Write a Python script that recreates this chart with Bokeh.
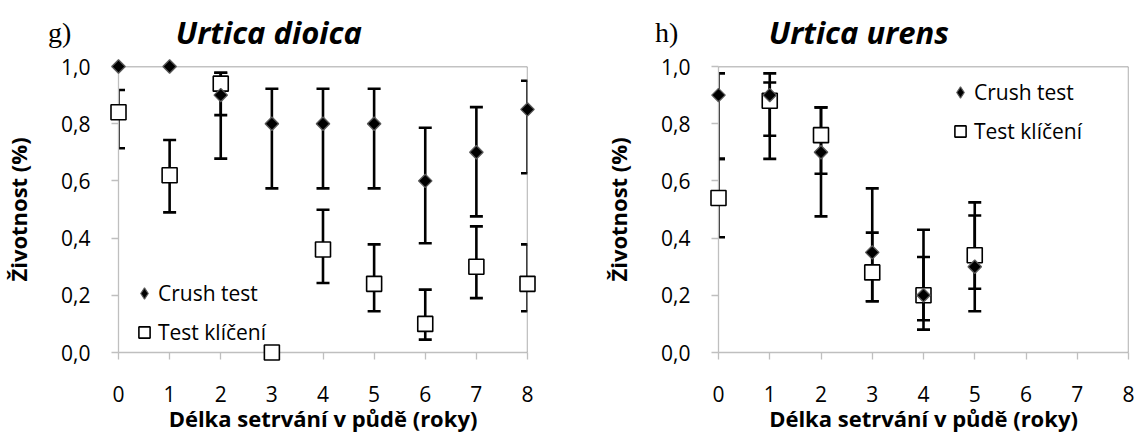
import math
from bokeh.plotting import figure
from bokeh.models import (ColumnDataSource, Whisker, TeeHead, Span, Legend,
                          LegendItem, FixedTicker, Range1d)
from bokeh.core.properties import value
from bokeh.layouts import row
from bokeh.embed import file_html
from bokeh.resources import INLINE

# ---------------- data ----------------
x_ticks = [0, 1, 2, 3, 4, 5, 6, 7, 8]
x_tick_labels = ["0", "1", "2", "3", "4", "5", "6", "7", "8"]
y_ticks = [0.0, 0.2, 0.4, 0.6, 0.8, 1.0]
y_tick_labels = ["0,0", "0,2", "0,4", "0,6", "0,8", "1,0"]

# g) Urtica dioica
dioica_years = [0, 1, 2, 3, 4, 5, 6, 7, 8]
dioica_crush = [1.00, 1.00, 0.90, 0.80, 0.80, 0.80, 0.60, 0.70, 0.85]
dioica_crush_lo = [None, None, 0.678, 0.574, 0.574, 0.574, 0.382, 0.476, 0.627]
dioica_crush_hi = [None, None, 0.978, 0.922, 0.922, 0.922, 0.786, 0.858, 0.950]
dioica_germ = [0.84, 0.62, 0.94, 0.00, 0.36, 0.24, 0.10, 0.30, 0.24]
dioica_germ_lo = [0.714, 0.490, 0.830, None, 0.243, 0.144, 0.045, 0.190, 0.144]
dioica_germ_hi = [0.918, 0.743, 0.978, None, 0.499, 0.378, 0.220, 0.441, 0.378]

# h) Urtica urens
urens_years = [0, 1, 2, 3, 4, 5]
urens_crush = [0.90, 0.90, 0.70, 0.35, 0.20, 0.30]
urens_crush_lo = [0.677, 0.677, 0.476, 0.179, 0.080, 0.144]
urens_crush_hi = [0.976, 0.976, 0.857, 0.574, 0.429, 0.525]
urens_germ = [0.54, 0.88, 0.76, 0.28, 0.20, 0.34]
urens_germ_lo = [0.403, 0.758, 0.625, 0.179, 0.113, 0.223]
urens_germ_hi = [0.677, 0.944, 0.857, 0.419, 0.334, 0.479]

series_names = ["Crush test", "Test klíčení"]
x_title = "Délka setrvání v půdě (roky)"
y_title = "Životnost (%)"

FONT = "Open Sans"
AXIS_GRAY = "#bfbfbf"
BORDER_GRAY = "#868686"
DIAMOND_EDGE = "#5a5a5a"


def whisker(p, xs, lo, hi):
    keep = [i for i in range(len(xs)) if lo[i] is not None]
    src = ColumnDataSource(dict(x=[xs[i] for i in keep],
                                lo=[lo[i] for i in keep],
                                hi=[hi[i] for i in keep]))
    w = Whisker(base="x", lower="lo", upper="hi", source=src, dimension="height",
                line_color="black", line_width=2.6,
                upper_head=TeeHead(size=13, line_color="black", line_width=2.6),
                lower_head=TeeHead(size=13, line_color="black", line_width=2.6))
    p.add_layout(w)


def panel(width, mb_left, mb_right, letter, letter_x, title, title_x,
          years, crush, crush_lo, crush_hi, germ, germ_lo, germ_hi, legend_loc):
    p = figure(width=width, height=435, output_backend="svg", toolbar_location=None,
               x_range=Range1d(0, 8), y_range=Range1d(0, 1.0),
               min_border_left=mb_left, min_border_right=mb_right,
               min_border_top=66, min_border_bottom=83)
    p.grid.visible = False
    p.outline_line_color = None
    p.background_fill_color = "white"
    p.border_fill_color = "white"

    for ax in (p.xaxis[0], p.yaxis[0]):
        ax.axis_line_color = AXIS_GRAY
        ax.axis_line_width = 1.3
        ax.major_tick_line_color = AXIS_GRAY
        ax.major_tick_line_width = 1.3
        ax.major_tick_in = 0
        ax.major_tick_out = 7
        ax.minor_tick_line_color = None
        ax.major_label_text_font = FONT
        ax.major_label_text_font_size = "21px"
        ax.major_label_text_color = "black"
        ax.axis_label_text_font = FONT
        ax.axis_label_text_font_size = "22px"
        ax.axis_label_text_font_style = "bold"
        ax.axis_label_text_color = "black"

    p.xaxis.ticker = FixedTicker(ticks=x_ticks)
    p.xaxis.major_label_overrides = dict(zip(x_ticks, x_tick_labels))
    p.yaxis.ticker = FixedTicker(ticks=y_ticks)
    p.yaxis.major_label_overrides = dict(zip(y_ticks, y_tick_labels))
    p.xaxis.axis_label = x_title
    p.yaxis.axis_label = y_title
    p.xaxis.major_label_standoff = 26
    p.xaxis.axis_label_standoff = -2
    p.yaxis.major_label_standoff = 21
    p.yaxis.axis_label_standoff = 25

    # top / right frame border
    p.add_layout(Span(location=1.0, dimension="width", line_color=BORDER_GRAY, line_width=1.3))
    p.add_layout(Span(location=8, dimension="height", line_color=BORDER_GRAY, line_width=1.3))

    whisker(p, years, germ_lo, germ_hi)
    whisker(p, years, crush_lo, crush_hi)

    # plain diamond renderer (used for the legend glyph); covered by the rotated squares
    ld = p.scatter(years, crush, marker="diamond", size=12, fill_color="black",
                   line_color=DIAMOND_EDGE, line_width=1.2)
    ls = p.scatter(years, germ, marker="square", size=15, fill_color="white",
                   line_color="black", line_width=1.6, level="overlay")
    p.scatter(years, crush, marker="square", size=9.5, angle=math.pi / 4,
              fill_color="black", line_color=DIAMOND_EDGE, line_width=1.3,
              level="overlay")

    legend = Legend(items=[LegendItem(label=series_names[0], renderers=[ld]),
                           LegendItem(label=series_names[1], renderers=[ls])],
                    location=legend_loc, orientation="vertical",
                    background_fill_alpha=0, border_line_color=None,
                    padding=0, margin=0, spacing=7, glyph_width=28, glyph_height=32,
                    label_standoff=0, label_text_font=FONT,
                    label_text_font_size="21px", label_text_color="black")
    p.add_layout(legend)

    p.text(x=[letter_x], y=[1.12], text=[letter], text_font=value("Liberation Serif"),
           text_font_size="28px", text_color="black", text_baseline="alphabetic",
           level="overlay")
    p.text(x=[title_x], y=[1.12], text=[title], text_font=value(FONT),
           text_font_size="31px", text_font_style="bold italic", text_color="black",
           text_baseline="alphabetic", level="overlay")
    return p


p1 = panel(600, 117, 73, "g)", -1.38, "Urtica dioica", 1.12,
           dioica_years, dioica_crush, dioica_crush_lo, dioica_crush_hi,
           dioica_germ, dioica_germ_lo, dioica_germ_hi, (12, 4))
p2 = panel(535, 118, 7, "h)", -1.24, "Urtica urens", 0.98,
           urens_years, urens_crush, urens_crush_lo, urens_crush_hi,
           urens_germ, urens_germ_lo, urens_germ_hi, (228, 205))

layout = row(p1, p2)
open("out.html", "w").write(file_html(layout, INLINE))
